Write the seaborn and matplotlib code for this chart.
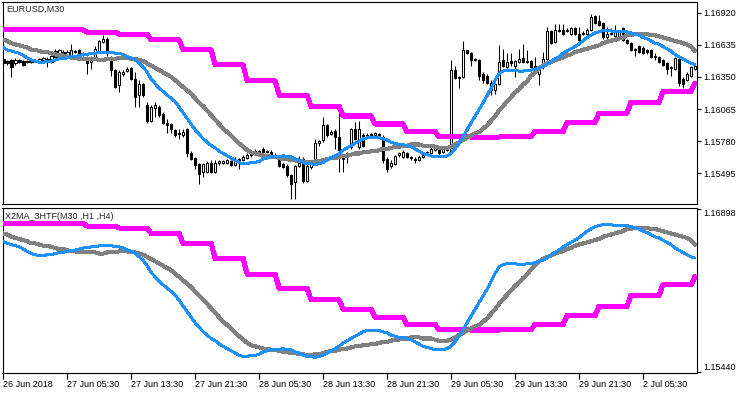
#EURUSD M30 chart with X2MA_3HTF indicator
import numpy as np
import matplotlib
matplotlib.use('Agg')
import matplotlib.pyplot as plt
import seaborn as sns

# candle data (M30 bars)
opens = [1.1651, 1.1649, 1.1650, 1.1647, 1.1650, 1.1649, 1.1648, 1.1648, 1.1649, 1.1648,
         1.1650, 1.1651, 1.1648, 1.1658, 1.1654, 1.1657, 1.1654, 1.1654, 1.1658, 1.1659,
         1.1655, 1.1653, 1.1648, 1.1653, 1.1658, 1.1666, 1.1669, 1.1651, 1.1641, 1.1628,
         1.1638, 1.1640, 1.1643, 1.1633, 1.1619, 1.1629, 1.1610, 1.1596, 1.1607, 1.1608,
         1.1602, 1.1594, 1.1593, 1.1588, 1.1585, 1.1583, 1.1589, 1.1567, 1.1563, 1.1558,
         1.1551, 1.1551, 1.1559, 1.1551, 1.1559, 1.1559, 1.1559, 1.1560, 1.1557, 1.1562,
         1.1561, 1.1563, 1.1566, 1.1567, 1.1569, 1.1571, 1.1568, 1.1568, 1.1565, 1.1561,
         1.1558, 1.1556, 1.1548, 1.1542, 1.1556, 1.1562, 1.1543, 1.1555, 1.1558, 1.1576,
         1.1579, 1.1592, 1.1584, 1.1587, 1.1582, 1.1564, 1.1564, 1.1573, 1.1589, 1.1573,
         1.1583, 1.1583, 1.1583, 1.1583, 1.1583, 1.1582, 1.1562, 1.1556, 1.1558, 1.1566,
         1.1564, 1.1567, 1.1564, 1.1562, 1.1561, 1.1564, 1.1567, 1.1567, 1.1570, 1.1571,
         1.1568, 1.1570, 1.1568, 1.1641, 1.1635, 1.1635, 1.1659, 1.1656, 1.1651, 1.1650,
         1.1638, 1.1636, 1.1630, 1.1623, 1.1629, 1.1650, 1.1644, 1.1649, 1.1645, 1.1648,
         1.1652, 1.1648, 1.1649, 1.1644, 1.1638, 1.1644, 1.1651, 1.1676, 1.1666, 1.1676,
         1.1677, 1.1676, 1.1673, 1.1678, 1.1673, 1.1673, 1.1673, 1.1677, 1.1689, 1.1685,
         1.1683, 1.1670, 1.1673, 1.1671, 1.1671, 1.1678, 1.1668, 1.1665, 1.1659, 1.1662,
         1.1661, 1.1659, 1.1659, 1.1653, 1.1653, 1.1650, 1.1647, 1.1643, 1.1642, 1.1651,
         1.1633, 1.1632, 1.1636, 1.1642]
closes = [1.1647, 1.1647, 1.1644, 1.1650, 1.1648, 1.1646, 1.1649, 1.1649, 1.1650, 1.1651,
          1.1652, 1.1649, 1.1654, 1.1653, 1.1659, 1.1653, 1.1657, 1.1659, 1.1657, 1.1655,
          1.1656, 1.1647, 1.1652, 1.1660, 1.1667, 1.1669, 1.1657, 1.1641, 1.1626, 1.1639,
          1.1639, 1.1642, 1.1633, 1.1617, 1.1629, 1.1619, 1.1596, 1.1608, 1.1610, 1.1601,
          1.1594, 1.1592, 1.1589, 1.1583, 1.1584, 1.1586, 1.1567, 1.1562, 1.1557, 1.1549,
          1.1558, 1.1559, 1.1551, 1.1559, 1.1560, 1.1560, 1.1561, 1.1557, 1.1562, 1.1559,
          1.1564, 1.1566, 1.1568, 1.1569, 1.1568, 1.1568, 1.1569, 1.1565, 1.1566, 1.1556,
          1.1555, 1.1548, 1.1540, 1.1556, 1.1559, 1.1543, 1.1556, 1.1560, 1.1576, 1.1578,
          1.1592, 1.1583, 1.1586, 1.1582, 1.1570, 1.1562, 1.1567, 1.1589, 1.1580, 1.1589,
          1.1574, 1.1582, 1.1584, 1.1585, 1.1584, 1.1561, 1.1553, 1.1559, 1.1565, 1.1567,
          1.1568, 1.1564, 1.1563, 1.1561, 1.1564, 1.1566, 1.1568, 1.1571, 1.1572, 1.1567,
          1.1571, 1.1571, 1.1641, 1.1634, 1.1634, 1.1659, 1.1656, 1.1650, 1.1650, 1.1636,
          1.1632, 1.1630, 1.1623, 1.1629, 1.1648, 1.1645, 1.1648, 1.1647, 1.1649, 1.1651,
          1.1648, 1.1649, 1.1644, 1.1645, 1.1642, 1.1651, 1.1676, 1.1665, 1.1677, 1.1677,
          1.1673, 1.1677, 1.1678, 1.1673, 1.1668, 1.1674, 1.1677, 1.1688, 1.1683, 1.1681,
          1.1670, 1.1673, 1.1674, 1.1675, 1.1676, 1.1668, 1.1665, 1.1659, 1.1660, 1.1657,
          1.1656, 1.1657, 1.1653, 1.1654, 1.1648, 1.1646, 1.1642, 1.1644, 1.1652, 1.1630,
          1.1629, 1.1638, 1.1644, 1.1645]
highs = [1.1652, 1.1650, 1.1651, 1.1652, 1.1651, 1.1650, 1.1650, 1.1650, 1.1651, 1.1652,
         1.1653, 1.1653, 1.1655, 1.1660, 1.1660, 1.1659, 1.1659, 1.1664, 1.1659, 1.1660,
         1.1657, 1.1654, 1.1654, 1.1662, 1.1668, 1.1672, 1.1670, 1.1654, 1.1642, 1.1641,
         1.1641, 1.1644, 1.1644, 1.1639, 1.1632, 1.1630, 1.1613, 1.1610, 1.1613, 1.1610,
         1.1604, 1.1598, 1.1594, 1.1589, 1.1589, 1.1589, 1.1590, 1.1569, 1.1564, 1.1559,
         1.1559, 1.1560, 1.1561, 1.1561, 1.1561, 1.1561, 1.1562, 1.1561, 1.1564, 1.1563,
         1.1566, 1.1567, 1.1570, 1.1571, 1.1570, 1.1573, 1.1570, 1.1570, 1.1567, 1.1562,
         1.1559, 1.1558, 1.1549, 1.1557, 1.1565, 1.1564, 1.1558, 1.1561, 1.1580, 1.1579,
         1.1599, 1.1593, 1.1588, 1.1589, 1.1605, 1.1565, 1.1568, 1.1590, 1.1595, 1.1596,
         1.1585, 1.1585, 1.1585, 1.1586, 1.1585, 1.1583, 1.1564, 1.1561, 1.1566, 1.1568,
         1.1570, 1.1568, 1.1565, 1.1564, 1.1566, 1.1567, 1.1569, 1.1573, 1.1574, 1.1573,
         1.1572, 1.1572, 1.1650, 1.1645, 1.1636, 1.1667, 1.1659, 1.1657, 1.1652, 1.1651,
         1.1639, 1.1638, 1.1632, 1.1630, 1.1663, 1.1660, 1.1656, 1.1656, 1.1650, 1.1660,
         1.1664, 1.1659, 1.1650, 1.1653, 1.1644, 1.1657, 1.1679, 1.1677, 1.1682, 1.1682,
         1.1682, 1.1678, 1.1679, 1.1679, 1.1679, 1.1676, 1.1678, 1.1691, 1.1690, 1.1690,
         1.1684, 1.1679, 1.1678, 1.1681, 1.1677, 1.1679, 1.1669, 1.1666, 1.1661, 1.1663,
         1.1662, 1.1660, 1.1660, 1.1656, 1.1654, 1.1651, 1.1648, 1.1645, 1.1653, 1.1652,
         1.1635, 1.1639, 1.1645, 1.1646]
lows = [1.1645, 1.1646, 1.1635, 1.1646, 1.1647, 1.1645, 1.1647, 1.1647, 1.1648, 1.1647,
        1.1649, 1.1644, 1.1647, 1.1652, 1.1653, 1.1652, 1.1653, 1.1653, 1.1656, 1.1653,
        1.1654, 1.1638, 1.1642, 1.1651, 1.1656, 1.1665, 1.1654, 1.1636, 1.1625, 1.1622,
        1.1636, 1.1639, 1.1632, 1.1608, 1.1608, 1.1617, 1.1594, 1.1595, 1.1599, 1.1599,
        1.1593, 1.1585, 1.1585, 1.1582, 1.1580, 1.1582, 1.1564, 1.1561, 1.1553, 1.1540,
        1.1546, 1.1550, 1.1550, 1.1550, 1.1557, 1.1558, 1.1558, 1.1556, 1.1556, 1.1553,
        1.1560, 1.1562, 1.1564, 1.1566, 1.1566, 1.1567, 1.1567, 1.1564, 1.1564, 1.1555,
        1.1554, 1.1546, 1.1527, 1.1527, 1.1555, 1.1541, 1.1542, 1.1553, 1.1557, 1.1574,
        1.1577, 1.1582, 1.1583, 1.1571, 1.1551, 1.1551, 1.1559, 1.1571, 1.1579, 1.1571,
        1.1573, 1.1581, 1.1582, 1.1582, 1.1582, 1.1559, 1.1551, 1.1554, 1.1557, 1.1564,
        1.1563, 1.1563, 1.1561, 1.1559, 1.1560, 1.1563, 1.1566, 1.1566, 1.1569, 1.1566,
        1.1567, 1.1569, 1.1567, 1.1633, 1.1625, 1.1634, 1.1655, 1.1645, 1.1649, 1.1632,
        1.1630, 1.1629, 1.1619, 1.1620, 1.1628, 1.1644, 1.1643, 1.1645, 1.1635, 1.1647,
        1.1647, 1.1647, 1.1635, 1.1643, 1.1628, 1.1642, 1.1650, 1.1664, 1.1665, 1.1675,
        1.1672, 1.1675, 1.1672, 1.1672, 1.1667, 1.1672, 1.1672, 1.1676, 1.1682, 1.1680,
        1.1669, 1.1669, 1.1672, 1.1670, 1.1670, 1.1667, 1.1664, 1.1658, 1.1654, 1.1656,
        1.1655, 1.1655, 1.1652, 1.1650, 1.1647, 1.1645, 1.1638, 1.1636, 1.1641, 1.1627,
        1.1625, 1.1631, 1.1635, 1.1641]

# moving averages: M30 (blue), H1 (gray), H4 (magenta, one value per H4 period)
ma_m30 = [1.1661, 1.1659, 1.1658, 1.1657, 1.1656, 1.1654, 1.1652, 1.1650, 1.1649, 1.1648,
          1.1648, 1.1649, 1.1649, 1.1650, 1.1651, 1.1651, 1.1652, 1.1653, 1.1653, 1.1654,
          1.1655, 1.1655, 1.1656, 1.1656, 1.1657, 1.1657, 1.1657, 1.1657, 1.1656, 1.1656,
          1.1655, 1.1653, 1.1652, 1.1650, 1.1647, 1.1644, 1.1639, 1.1633, 1.1629, 1.1625,
          1.1622, 1.1619, 1.1616, 1.1613, 1.1608, 1.1603, 1.1598, 1.1593, 1.1588, 1.1584,
          1.1580, 1.1577, 1.1574, 1.1572, 1.1569, 1.1567, 1.1565, 1.1563, 1.1561, 1.1559,
          1.1558, 1.1558, 1.1559, 1.1559, 1.1560, 1.1562, 1.1563, 1.1564, 1.1564, 1.1564,
          1.1565, 1.1564, 1.1564, 1.1562, 1.1561, 1.1559, 1.1558, 1.1558, 1.1557, 1.1558,
          1.1559, 1.1561, 1.1563, 1.1565, 1.1567, 1.1570, 1.1572, 1.1574, 1.1576, 1.1578,
          1.1580, 1.1581, 1.1581, 1.1581, 1.1581, 1.1580, 1.1579, 1.1577, 1.1576, 1.1575,
          1.1575, 1.1574, 1.1573, 1.1571, 1.1569, 1.1567, 1.1566, 1.1565, 1.1564, 1.1564,
          1.1564, 1.1565, 1.1567, 1.1571, 1.1576, 1.1582, 1.1588, 1.1594, 1.1600, 1.1606,
          1.1612, 1.1618, 1.1625, 1.1632, 1.1638, 1.1640, 1.1641, 1.1641, 1.1641, 1.1640,
          1.1640, 1.1641, 1.1641, 1.1642, 1.1643, 1.1644, 1.1646, 1.1649, 1.1651, 1.1653,
          1.1656, 1.1658, 1.1660, 1.1662, 1.1664, 1.1667, 1.1670, 1.1672, 1.1674, 1.1675,
          1.1676, 1.1676, 1.1676, 1.1675, 1.1675, 1.1675, 1.1675, 1.1674, 1.1673, 1.1672,
          1.1670, 1.1669, 1.1667, 1.1665, 1.1664, 1.1662, 1.1660, 1.1658, 1.1655, 1.1653,
          1.1651, 1.1649, 1.1647, 1.1646]
ma_h1 = [1.1668, 1.1667, 1.1665, 1.1664, 1.1663, 1.1662, 1.1661, 1.1659, 1.1659, 1.1658,
         1.1657, 1.1657, 1.1656, 1.1655, 1.1654, 1.1654, 1.1653, 1.1652, 1.1652, 1.1651,
         1.1651, 1.1651, 1.1651, 1.1651, 1.1650, 1.1650, 1.1651, 1.1651, 1.1651, 1.1652,
         1.1652, 1.1652, 1.1651, 1.1651, 1.1650, 1.1649, 1.1647, 1.1645, 1.1643, 1.1641,
         1.1639, 1.1637, 1.1635, 1.1632, 1.1629, 1.1626, 1.1623, 1.1620, 1.1616, 1.1612,
         1.1609, 1.1605, 1.1601, 1.1597, 1.1593, 1.1589, 1.1586, 1.1583, 1.1579, 1.1576,
         1.1573, 1.1570, 1.1568, 1.1567, 1.1566, 1.1565, 1.1565, 1.1564, 1.1564, 1.1563,
         1.1562, 1.1562, 1.1561, 1.1561, 1.1560, 1.1560, 1.1559, 1.1559, 1.1560, 1.1560,
         1.1561, 1.1562, 1.1563, 1.1563, 1.1564, 1.1565, 1.1565, 1.1566, 1.1567, 1.1567,
         1.1568, 1.1568, 1.1569, 1.1569, 1.1570, 1.1571, 1.1571, 1.1572, 1.1573, 1.1573,
         1.1574, 1.1574, 1.1575, 1.1575, 1.1575, 1.1574, 1.1574, 1.1574, 1.1573, 1.1572,
         1.1572, 1.1572, 1.1573, 1.1575, 1.1577, 1.1579, 1.1581, 1.1583, 1.1585, 1.1586,
         1.1589, 1.1592, 1.1596, 1.1600, 1.1605, 1.1609, 1.1613, 1.1617, 1.1621, 1.1624,
         1.1628, 1.1631, 1.1636, 1.1639, 1.1643, 1.1645, 1.1647, 1.1648, 1.1650, 1.1651,
         1.1652, 1.1654, 1.1655, 1.1657, 1.1658, 1.1659, 1.1660, 1.1661, 1.1662, 1.1663,
         1.1665, 1.1666, 1.1667, 1.1668, 1.1669, 1.1670, 1.1672, 1.1672, 1.1673, 1.1673,
         1.1673, 1.1673, 1.1672, 1.1672, 1.1671, 1.1670, 1.1669, 1.1668, 1.1667, 1.1666,
         1.1665, 1.1664, 1.1662, 1.1658]
h4_levels = [1.16767, 1.16767, 1.16767, 1.16746, 1.16728, 1.16678, 1.16589, 1.16456,
             1.16314, 1.16189, 1.16086, 1.16003, 1.15932, 1.15864, 1.15819, 1.15816,
             1.15822, 1.15864, 1.15944, 1.16027, 1.16124, 1.16219, 1.16293]
h4_bars = [5] + [8] * 21 + [1]   # M30 bars inside each H4 period

price_ticks = [1.16920, 1.16635, 1.16350, 1.16065, 1.15780, 1.15495]
sub_ticks = [1.15440, 1.16898]
time_ticks = [0, 16, 32, 48, 64, 80, 96, 112, 128, 144, 160]
time_labels = ['26 Jun 2018', '27 Jun 05:30', '27 Jun 13:30', '27 Jun 21:30', '28 Jun 05:30',
               '28 Jun 13:30', '28 Jun 21:30', '29 Jun 05:30', '29 Jun 13:30', '29 Jun 21:30',
               '2 Jul 05:30']

opens, closes = np.array(opens), np.array(closes)
highs, lows = np.array(highs), np.array(lows)
bars = np.arange(len(closes))
ma_h4 = np.repeat(h4_levels, h4_bars)

sns.set_style('white')
plt.rcParams['font.family'] = ['Liberation Sans', 'DejaVu Sans']
FS = 6.5
W, H = 750, 394

fig = plt.figure(figsize=(7.5, 3.94), dpi=100)
ax1 = fig.add_axes([2.5 / W, 1 - 204.3 / H, 694.8 / W, 202.3 / H])
ax2 = fig.add_axes([2.5 / W, 1 - 372.7 / H, 694.8 / W, 165.0 / H])

# candles: wicks first, bodies over them
up = closes >= opens
body_lo = np.minimum(opens, closes)
body_h = np.abs(closes - opens)
ax1.vlines(bars, lows, highs, color='black', linewidth=0.75, zorder=1)
ax1.bar(bars[up], body_h[up], bottom=body_lo[up], width=0.62, color='white',
        edgecolor='black', linewidth=0.75, zorder=2)
ax1.bar(bars[~up], body_h[~up], bottom=body_lo[~up], width=0.62, color='black',
        edgecolor='black', linewidth=0.75, zorder=2)

def draw_mas(ax):
    sns.lineplot(x=bars, y=ma_h4, ax=ax, color='#FF00FF', linewidth=2.9, zorder=3,
                 sort=False, antialiased=False)
    sns.lineplot(x=bars, y=ma_h1, ax=ax, color='#808080', linewidth=2.2, zorder=4,
                 sort=False, antialiased=False)
    sns.lineplot(x=bars, y=ma_m30, ax=ax, color='#1E90FF', linewidth=1.4, zorder=5,
                 sort=False, antialiased=False)

draw_mas(ax1)
draw_mas(ax2)

for ax in (ax1, ax2):
    ax.set_xlim(-0.2, 173.6)
    ax.set_xlabel('')
    ax.set_ylabel('')
    ax.yaxis.tick_right()
    for s in ax.spines.values():
        s.set_color('black')
        s.set_linewidth(0.8)
        s.set_visible(True)
    ax.tick_params(axis='y', direction='out', length=3, width=0.8, pad=1.5,
                   labelsize=FS, colors='black', right=True, left=False)

ax1.set_ylim(1.15219, 1.17015)
ax1.set_yticks(price_ticks)
ax1.set_yticklabels([f'{p:.5f}' for p in price_ticks])
ax1.set_xticks([])

ax2.set_ylim(1.15434, 1.16910)
ax2.set_yticks(sub_ticks)
ax2.set_yticklabels([f'{p:.5f}' for p in sub_ticks])
ylbl = ax2.get_yticklabels()
ylbl[0].set_va('bottom')
ylbl[1].set_va('top')

ax2.set_xticks(time_ticks)
ax2.set_xticklabels(time_labels, fontsize=FS)
for lbl in ax2.get_xticklabels():
    lbl.set_ha('left')
ax2.tick_params(axis='x', direction='out', length=4, width=0.8, pad=1.5,
                labelsize=FS, colors='black', bottom=True)

fig.text(6.5 / W, 1 - 9.7 / H, 'EURUSD,M30', fontsize=FS, va='center', ha='left')
fig.text(5 / W, 1 - 216.3 / H, 'X2MA_3HTF(M30 ,H1 ,H4)', fontsize=FS, va='center', ha='left')

plt.savefig('out.png', dpi=100)
